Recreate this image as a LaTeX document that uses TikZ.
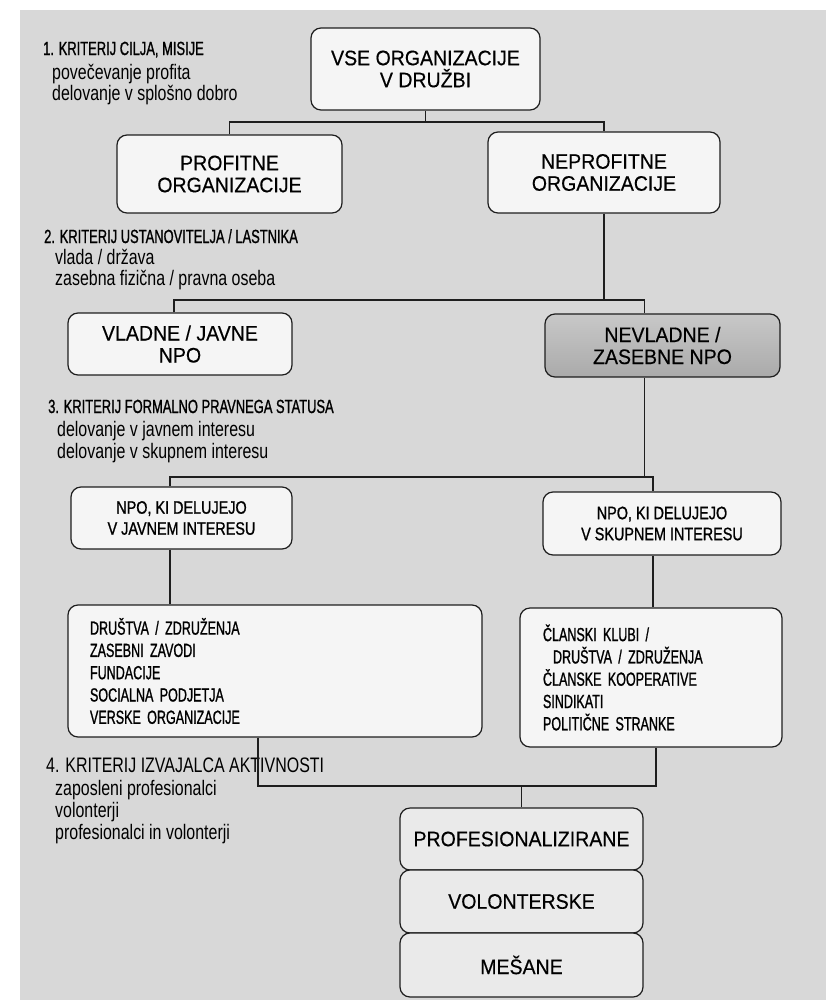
\documentclass[tikz,border=0pt]{standalone}
\usepackage{fontspec}
\setmainfont{Liberation Sans}
\newfontfamily\hfont[FakeStretch=0.93,FakeBold=0.4]{Liberation Sans}
\newfontfamily\cfont[FakeStretch=0.68,FakeBold=1]{Liberation Sans}
\newfontfamily\lfont[FakeStretch=0.66,FakeBold=1]{Liberation Sans}
\newfontfamily\mfont[FakeStretch=0.8,FakeBold=1]{Liberation Sans}
\newfontfamily\sfont[FakeStretch=0.76]{Liberation Sans}
\newfontfamily\kfont[FakeStretch=0.76]{Liberation Sans}
\definecolor{bg}{RGB}{216,216,216}
\definecolor{boxfill}{RGB}{245,245,245}
\definecolor{stackfill}{RGB}{234,234,234}
\definecolor{linec}{RGB}{30,30,30}
\definecolor{dtop}{RGB}{200,200,200}
\definecolor{dbot}{RGB}{170,170,170}
\tikzset{
  bigbox/.style={draw=linec, line width=1.2pt, rounded corners=10pt, fill=boxfill,
    align=center, inner sep=0pt, font={\hfont\fontsize{21}{22}\selectfont}},
  midbox/.style={draw=linec, line width=1.2pt, rounded corners=10pt, fill=boxfill,
    align=center, inner sep=0pt, font={\mfont\fontsize{18}{21}\selectfont}},
  listbox/.style={draw=linec, line width=1.2pt, rounded corners=10pt, fill=boxfill,
    align=left, inner ysep=0pt, font={\lfont\fontsize{19}{22.3}\selectfont}},
  stackbox/.style={draw=linec, line width=1.2pt, rounded corners=10pt, fill=stackfill,
    align=center, inner sep=0pt, minimum width=243pt, font={\hfont\fontsize{21}{22}\selectfont}},
  conn/.style={draw=linec, line width=1.1pt},
  crit/.style={anchor=base west, inner sep=0pt, font={\cfont\fontsize{19}{20}\selectfont}},
  crit4/.style={anchor=base west, inner sep=0pt, font={\kfont\fontsize{21}{22}\selectfont}},
  sub/.style={anchor=base west, inner sep=0pt, font={\sfont\fontsize{21}{22}\selectfont}}
}
\begin{document}
\begin{tikzpicture}[x=1pt,y=-1pt]
\useasboundingbox (0,0) rectangle (826,1007);
\fill[bg] (20,10) rectangle (826,1000);

% criteria labels
\node[crit] (k1) at (43,55) {1. KRITERIJ CILJA, MISIJE};
\node[sub] (k1a) at (52,79) {povečevanje profita};
\node[sub] (k1b) at (52,100) {delovanje v splošno dobro};

\node[crit] (k2) at (44,243) {2. KRITERIJ USTANOVITELJA / LASTNIKA};
\node[sub] (k2a) at (55,264) {vlada / država};
\node[sub] (k2b) at (55,285) {zasebna fizična / pravna oseba};

\node[crit] (k3) at (48,413) {3. KRITERIJ FORMALNO PRAVNEGA STATUSA};
\node[sub] (k3a) at (57,436) {delovanje v javnem interesu};
\node[sub] (k3b) at (57,458) {delovanje v skupnem interesu};

\node[crit4] (k4) at (46,772) {4. KRITERIJ IZVAJALCA AKTIVNOSTI};
\node[sub] (k4a) at (55,795) {zaposleni profesionalci};
\node[sub] (k4b) at (55,817) {volonterji};
\node[sub] (k4c) at (55,839) {profesionalci in volonterji};

% boxes
\node[bigbox, minimum width=229pt, minimum height=82pt] (vse) at (425.5,69) {\raisebox{-4pt}{VSE ORGANIZACIJE}\\\raisebox{-4pt}{V DRUŽBI}};
\node[bigbox, minimum width=225pt, minimum height=78pt] (prof) at (229.5,174) {PROFITNE\\ORGANIZACIJE};
\node[bigbox, minimum width=232pt, minimum height=81pt] (neprof) at (604,172.5) {NEPROFITNE\\ORGANIZACIJE};
\node[bigbox, minimum width=224pt, minimum height=62pt] (vladne) at (180,344) {VLADNE / JAVNE\\NPO};
\node[bigbox, top color=dtop, bottom color=dbot, minimum width=235pt, minimum height=63pt] (nevladne) at (662.5,345.5) {NEVLADNE /\\ZASEBNE NPO};
\node[midbox, minimum width=221pt, minimum height=62pt] (javnem) at (181.5,518) {NPO, KI DELUJEJO\\V JAVNEM INTERESU};
\node[midbox, minimum width=238pt, minimum height=63pt] (skupnem) at (662,523.5) {NPO, KI DELUJEJO\\V SKUPNEM INTERESU};
\node[listbox, minimum height=132pt, inner xsep=22pt, text width=370pt] (drustva) at (275,671)
  {DRUŠTVA / ZDRUŽENJA\\ZASEBNI ZAVODI\\FUNDACIJE\\SOCIALNA PODJETJA\\VERSKE ORGANIZACIJE};
\node[listbox, minimum height=139pt, inner xsep=23pt, text width=216pt] (clanski) at (651,677.5)
  {ČLANSKI KLUBI /\\\hspace*{10pt}DRUŠTVA / ZDRUŽENJA\\ČLANSKE KOOPERATIVE\\SINDIKATI\\POLITIČNE STRANKE};
\node[stackbox, minimum height=62pt] (pz) at (521.5,839) {PROFESIONALIZIRANE};
\node[stackbox, minimum height=63pt] (vol) at (521.5,901.5) {VOLONTERSKE};
\node[stackbox, minimum height=64pt] (mes) at (521.5,965) {MEŠANE};

% connectors
\coordinate (j1) at (425.5,122);
\draw[conn] (vse.south) -- (j1);
\draw[conn] (prof.north) |- (j1) -| (neprof.north);

\coordinate (j2) at (604,300);
\draw[conn] (neprof.south) -- (j2);
\draw[conn] ([xshift=-6pt]vladne.north) |- (j2) -| ([xshift=-18pt]nevladne.north);

\coordinate (j3) at (644.5,477);
\draw[conn] ([xshift=-18pt]nevladne.south) -- (j3);
\draw[conn] ([xshift=-11.5pt]javnem.north) |- (j3) -| ([xshift=-9pt]skupnem.north);

\draw[conn] ([xshift=-11.5pt]javnem.south) -- ([xshift=-11.5pt]javnem.south |- drustva.north);
\draw[conn] ([xshift=-9pt]skupnem.south) -- ([xshift=-9pt]skupnem.south |- clanski.north);

\coordinate (j5) at (521.5,786);
\draw[conn] ([xshift=-17pt]drustva.south) |- (j5) -| ([xshift=5pt]clanski.south);
\draw[conn] (j5) -- (pz.north);
\end{tikzpicture}
\end{document}
